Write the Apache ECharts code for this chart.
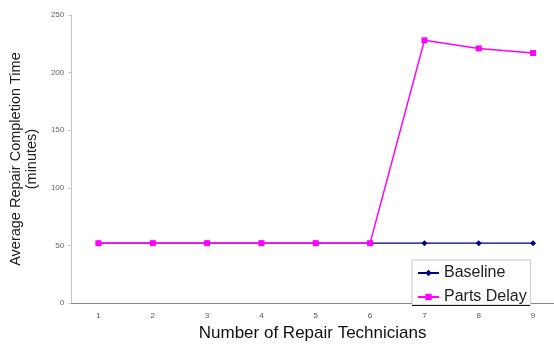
<!DOCTYPE html>
<html>
<head>
<meta charset="utf-8">
<script src="https://cdn.jsdelivr.net/npm/echarts@6/dist/echarts.min.js"></script>
<style>
  html, body { margin: 0; padding: 0; background: #fff; }
  #chart { width: 554px; height: 347px; }
</style>
</head>
<body>
<div id="chart"></div>
<script>
// Repair technicians on staff
const technicians = [1, 2, 3, 4, 5, 6, 7, 8, 9];
// Average completion time (minutes) per scenario
const baseline = [52, 52, 52, 52, 52, 52, 52, 52, 52];
const partsDelay = [52, 52, 52, 52, 52, 52, 228, 221, 217];
// Y-axis range
const yMin = 0, yMax = 250, yStep = 50;

const pairs = (vals) => vals.map((v, i) => [technicians[i], v]);

const chart = echarts.init(document.getElementById('chart'), null, { renderer: 'canvas' });

chart.setOption({
  animation: false,
  backgroundColor: '#ffffff',
  textStyle: { fontFamily: 'Liberation Sans, Arial, sans-serif' },
  grid: { left: 69.75, top: 15, right: 0, height: 299 },
  legend: {
    orient: 'vertical',
    left: 412,
    top: 260,
    padding: [5, 4, 0, 5],
    itemGap: 8,
    itemWidth: 21,
    itemHeight: 8,
    backgroundColor: '#ffffff',
    borderColor: '#c8c8c8',
    borderWidth: 1,
    borderRadius: 0,
    textStyle: { fontSize: 16, color: '#222' },
    data: ['Baseline', 'Parts Delay']
  },
  xAxis: {
    type: 'value',
    min: 0.5,
    max: 9.385,
    name: 'Number of Repair Technicians',
    nameLocation: 'middle',
    nameGap: 14.5,
    nameTextStyle: { fontSize: 17, color: '#111' },
    axisLine: { onZero: false, lineStyle: { color: '#8a8a8a', width: 1 } },
    axisTick: { show: false },
    axisLabel: { fontSize: 8, color: '#555', margin: 9, customValues: technicians },
    splitLine: { show: false }
  },
  yAxis: {
    type: 'value',
    min: yMin,
    max: yMax,
    interval: yStep,
    name: 'Average Repair Completion Time\n(minutes)',
    nameLocation: 'middle',
    nameGap: 26,
    nameTextStyle: { fontSize: 14.5, color: '#222', lineHeight: 16 },
    axisLine: { show: true, lineStyle: { color: '#c4c4c4', width: 1 } },
    axisTick: { show: true, length: 3, lineStyle: { color: '#c4c4c4' } },
    axisLabel: { fontSize: 8, color: '#666', margin: 7 },
    splitLine: { show: false }
  },
  series: [
    {
      name: 'Baseline',
      type: 'line',
      data: pairs(baseline),
      symbol: 'diamond',
      symbolSize: 6,
      color: '#000080',
      lineStyle: { color: '#000080', width: 1.2 },
      itemStyle: { color: '#000080' },
      z: 2
    },
    {
      name: 'Parts Delay',
      type: 'line',
      data: pairs(partsDelay),
      symbol: 'rect',
      symbolSize: 6,
      color: '#ff00ff',
      lineStyle: { color: '#ff00ff', width: 1.5 },
      itemStyle: { color: '#ff00ff' },
      z: 3
    }
  ],
  graphic: [
    {
      type: 'line',
      shape: { x1: 412, y1: 305.5, x2: 530, y2: 305.5 },
      style: { stroke: '#111', lineWidth: 1 },
      z: 100
    }
  ]
});
</script>
</body>
</html>
